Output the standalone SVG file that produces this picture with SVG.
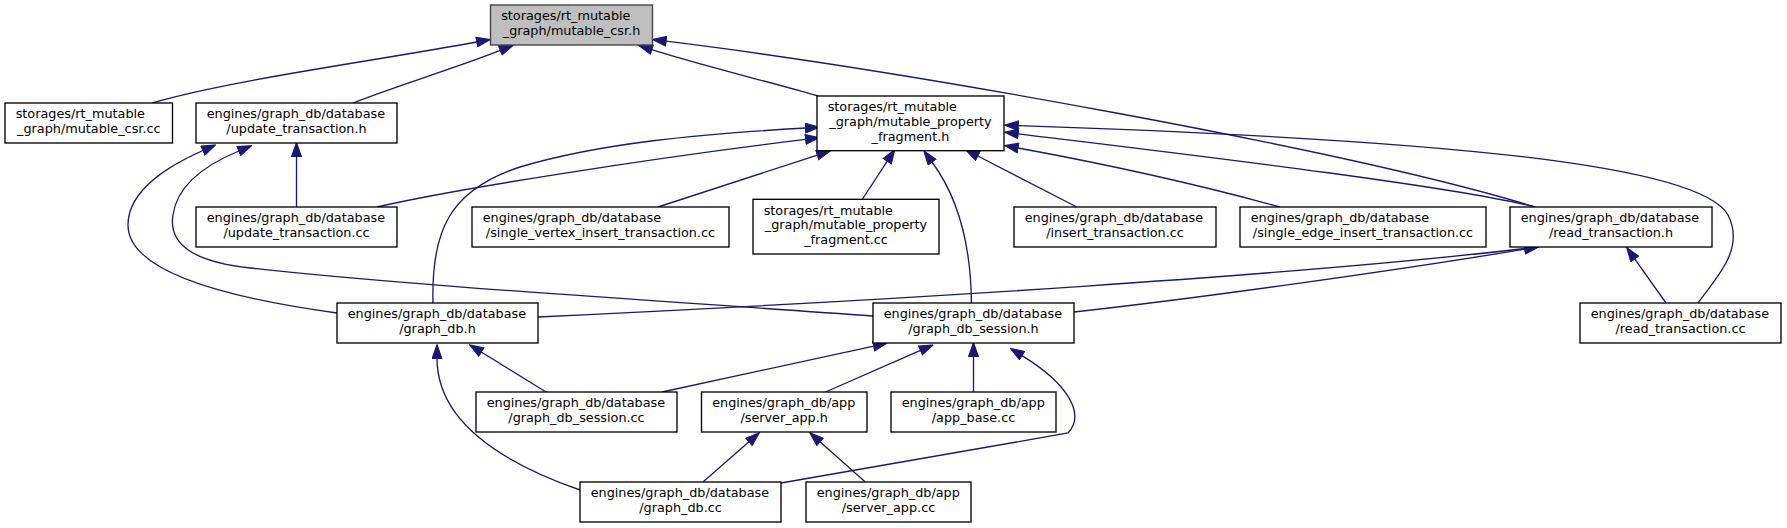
<svg xmlns="http://www.w3.org/2000/svg" width="1787" height="528" viewBox="0 0 1787 528">
<style>
.n rect{fill:#ffffff;stroke:#000000;stroke-width:1.33}
.root rect{fill:#bfbfbf;stroke:#404040;stroke-width:1.33}
text{font-family:"DejaVu Sans","Liberation Sans",sans-serif;font-size:12.8px;fill:#000000}
.m{text-anchor:middle}
#edges path{fill:none;stroke:#191970;stroke-width:1.33;marker-end:url(#arr)}
</style>
<defs>
<marker id="arr" markerUnits="userSpaceOnUse" markerWidth="15" markerHeight="11" viewBox="-0.7 -0.7 14.7 10.8" refX="0" refY="4.67" orient="auto">
<path d="M0,0 L13.33,4.67 L0,9.33 Z" fill="#191970" stroke="#191970" stroke-width="1.2"/>
</marker>
</defs>
<rect width="1787" height="528" fill="#ffffff"/>
<g id="edges">
<path d="M152,103 C230,80 380,60 476.8,42"/>
<path d="M353,103 C390,88 450,70 500.4,50.4"/>
<path d="M818,96 C770,82 700,65 651.8,49.6"/>
<path d="M1535,207 C1350,150 900,70 666.1,41.2"/>
<path d="M1535,207 C1450,185 1150,150 1018.2,133.8"/>
<path d="M1698,303 C1714,280 1746,250 1728,215 C1700,165 1450,140 1018.3,125.7"/>
<path d="M1666,303 L1634.7,258.9"/>
<path d="M538,317 C900,300 1300,275 1524.8,248.5"/>
<path d="M1074,312 C1200,298 1400,270 1525,249.1"/>
<path d="M296.5,207 L296.5,156.3"/>
<path d="M337,313 C220,297 128,270 128,225 C128,190 170,165 203,150.5"/>
<path d="M873,316 C650,300 400,285 250,268 C195,262 168,245 173,215 C177,185 205,165 238.9,151"/>
<path d="M377,207 C450,190 650,158 805.7,139.4"/>
<path d="M433,303 C431,230 450,190 520,167 C600,143 700,134 805.5,128"/>
<path d="M658,207 L817.4,155.1"/>
<path d="M862.5,199 L887.3,161.1"/>
<path d="M971.4,303 C971,250 960,200 932,162"/>
<path d="M1076.8,207 L977.8,156"/>
<path d="M1280,207 C1200,185 1100,163 1018,148"/>
<path d="M546,392 L481.3,352"/>
<path d="M580,490 C480,455 437,410 437,358.3"/>
<path d="M662,392 L873.7,346.1"/>
<path d="M825.5,392 L920.5,350.4"/>
<path d="M973.5,392 L973.5,356.3"/>
<path d="M781,483 L1068,433 C1085,415 1070,385 1022,355.6"/>
<path d="M703,482 L749,441.8"/>
<path d="M865.3,482 L820,441.8"/>
</g>
<g id="node_csr_h" class="root"><rect x="490.5" y="5" width="162" height="40"/><text x="501.2" y="20.3">storages/rt_mutable</text><text class="m" x="571.5" y="35">_graph/mutable_csr.h</text></g>
<g id="node_csr_cc" class="n"><rect x="5" y="103" width="167.5" height="40"/><text x="15.7" y="118.3">storages/rt_mutable</text><text class="m" x="88.8" y="133">_graph/mutable_csr.cc</text></g>
<g id="node_update_tx_h" class="n"><rect x="196" y="103" width="201" height="40"/><text x="206.7" y="118.3">engines/graph_db/database</text><text class="m" x="296.5" y="133">/update_transaction.h</text></g>
<g id="node_mpf_h" class="n"><rect x="817" y="96" width="187" height="54.7"/><text x="827.7" y="111.3">storages/rt_mutable</text><text class="m" x="910.5" y="126">_graph/mutable_property</text><text class="m" x="910.5" y="140.7">_fragment.h</text></g>
<g id="node_update_tx_cc" class="n"><rect x="196" y="207" width="201" height="40"/><text x="206.7" y="222.3">engines/graph_db/database</text><text class="m" x="296.5" y="237">/update_transaction.cc</text></g>
<g id="node_single_vertex" class="n"><rect x="472" y="207" width="257" height="40"/><text x="482.7" y="222.3">engines/graph_db/database</text><text class="m" x="600.5" y="237">/single_vertex_insert_transaction.cc</text></g>
<g id="node_mpf_cc" class="n"><rect x="753" y="199.3" width="186" height="54.7"/><text x="763.7" y="214.6">storages/rt_mutable</text><text class="m" x="846" y="229.3">_graph/mutable_property</text><text class="m" x="846" y="244">_fragment.cc</text></g>
<g id="node_insert_tx" class="n"><rect x="1014" y="207" width="202" height="40"/><text x="1024.7" y="222.3">engines/graph_db/database</text><text class="m" x="1115" y="237">/insert_transaction.cc</text></g>
<g id="node_single_edge" class="n"><rect x="1240" y="207" width="246" height="40"/><text x="1250.7" y="222.3">engines/graph_db/database</text><text class="m" x="1363" y="237">/single_edge_insert_transaction.cc</text></g>
<g id="node_read_tx_h" class="n"><rect x="1510" y="207" width="202" height="40"/><text x="1520.7" y="222.3">engines/graph_db/database</text><text class="m" x="1611" y="237">/read_transaction.h</text></g>
<g id="node_graph_db_h" class="n"><rect x="337" y="303" width="201" height="40"/><text x="347.7" y="318.3">engines/graph_db/database</text><text class="m" x="437.5" y="333">/graph_db.h</text></g>
<g id="node_session_h" class="n"><rect x="873" y="303" width="201" height="40"/><text x="883.7" y="318.3">engines/graph_db/database</text><text class="m" x="973.5" y="333">/graph_db_session.h</text></g>
<g id="node_read_tx_cc" class="n"><rect x="1580" y="303" width="201" height="40"/><text x="1590.7" y="318.3">engines/graph_db/database</text><text class="m" x="1680.5" y="333">/read_transaction.cc</text></g>
<g id="node_session_cc" class="n"><rect x="476" y="392" width="201" height="40"/><text x="486.7" y="407.3">engines/graph_db/database</text><text class="m" x="576.5" y="422">/graph_db_session.cc</text></g>
<g id="node_server_app_h" class="n"><rect x="701.5" y="392" width="165.5" height="40"/><text x="712.2" y="407.3">engines/graph_db/app</text><text class="m" x="784.2" y="422">/server_app.h</text></g>
<g id="node_app_base" class="n"><rect x="891" y="392" width="165" height="40"/><text x="901.7" y="407.3">engines/graph_db/app</text><text class="m" x="973.5" y="422">/app_base.cc</text></g>
<g id="node_graph_db_cc" class="n"><rect x="580" y="482" width="201" height="40"/><text x="590.7" y="497.3">engines/graph_db/database</text><text class="m" x="680.5" y="512">/graph_db.cc</text></g>
<g id="node_server_app_cc" class="n"><rect x="806" y="482" width="165" height="40"/><text x="816.7" y="497.3">engines/graph_db/app</text><text class="m" x="888.5" y="512">/server_app.cc</text></g>
</svg>
